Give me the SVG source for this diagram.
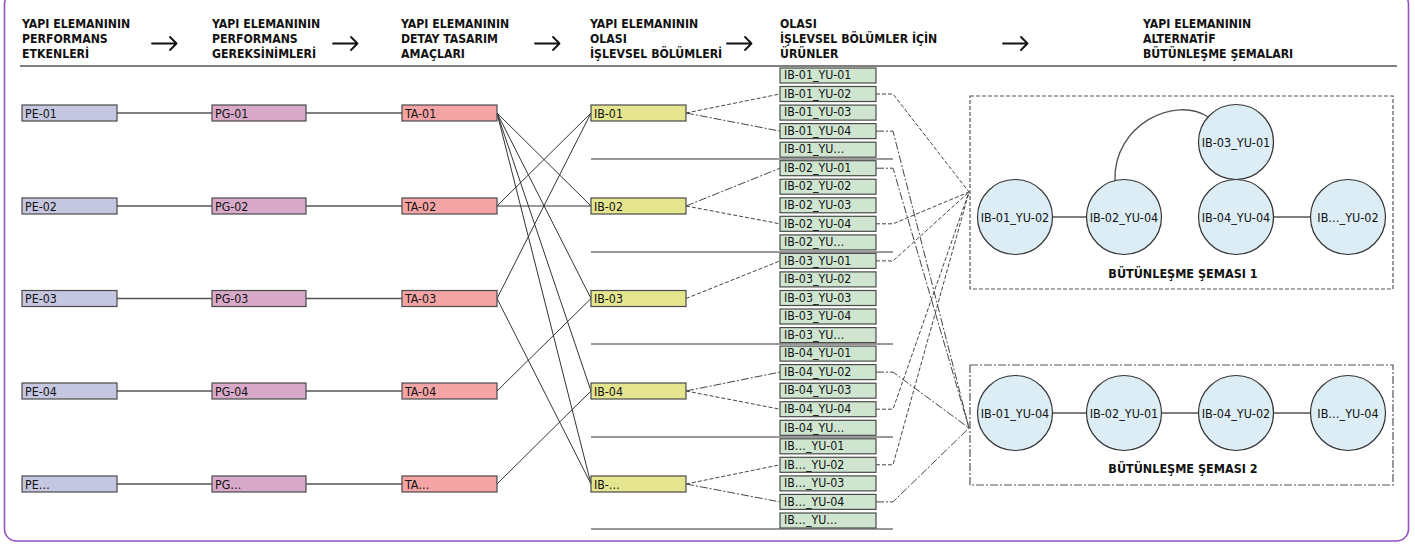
<svg xmlns="http://www.w3.org/2000/svg" width="1415" height="545" viewBox="0 0 1415 545">
<style>
text{font-family:"DejaVu Sans Condensed","Liberation Sans",Arial,sans-serif;font-stretch:condensed;fill:#111}
.h{font-size:12.2px;font-weight:bold}
.lbl{font-size:12.3px}
.cl{font-size:12.5px;text-anchor:middle}
.sl{font-size:12.5px;font-weight:bold;text-anchor:middle}
.arr{stroke:#111;stroke-width:1.8;fill:none;stroke-linecap:round;stroke-linejoin:round}
.box{stroke:#4a4a4a;stroke-width:1.2}
.pe{fill:#c5c6df}.pg{fill:#d8a9c9}.ta{fill:#f4a4a4}.ib{fill:#e5e590}.yu{fill:#cfe5cf}
.cir{fill:#dcedf5;stroke:#333;stroke-width:1.2}
.solid{stroke:#555;stroke-width:1.4;fill:none}
.thin{stroke:#333;stroke-width:1;fill:none}
.dash{stroke:#444;stroke-width:1;fill:none;stroke-dasharray:4 2}
.dd{stroke:#444;stroke-width:1;fill:none;stroke-dasharray:8 2 2 2}
.sep{stroke:#777;stroke-width:1.5}
</style>
<rect x="4.5" y="-8" width="1404" height="549" rx="12" fill="#fff" stroke="#9452c0" stroke-width="1.6"/>
<g id="headers">
<text class="h" x="22" y="28">YAPI ELEMANININ</text><text class="h" x="22" y="43">PERFORMANS</text><text class="h" x="22" y="58">ETKENLERİ</text>
<text class="h" x="212" y="28">YAPI ELEMANININ</text><text class="h" x="212" y="43">PERFORMANS</text><text class="h" x="212" y="58">GEREKSİNİMLERİ</text>
<text class="h" x="401" y="28">YAPI ELEMANININ</text><text class="h" x="401" y="43">DETAY TASARIM</text><text class="h" x="401" y="58">AMAÇLARI</text>
<text class="h" x="590" y="28">YAPI ELEMANININ</text><text class="h" x="590" y="43">OLASI</text><text class="h" x="590" y="58">İŞLEVSEL BÖLÜMLERİ</text>
<text class="h" x="780" y="28">OLASI</text><text class="h" x="780" y="43">İŞLEVSEL BÖLÜMLER İÇİN</text><text class="h" x="780" y="58">ÜRÜNLER</text>
<text class="h" x="1143" y="28">YAPI ELEMANININ</text><text class="h" x="1143" y="43">ALTERNATİF</text><text class="h" x="1143" y="58">BÜTÜNLEŞME ŞEMALARI</text>
<path class="arr" d="M152 43.5H176.5M170 37L176.5 43.5L170 50"/>
<path class="arr" d="M333 43.5H357.5M351 37L357.5 43.5L351 50"/>
<path class="arr" d="M535 43.5H559.5M553 37L559.5 43.5L553 50"/>
<path class="arr" d="M727 43.5H751.5M745 37L751.5 43.5L745 50"/>
<path class="arr" d="M1003 43.5H1027.5M1021 37L1027.5 43.5L1021 50"/>
<line x1="20" y1="66" x2="1397" y2="66" stroke="#555" stroke-width="1.5"/>
</g>
<g id="separators">
<line class="sep" x1="591" y1="159" x2="893" y2="159"/>
<line class="sep" x1="591" y1="252" x2="893" y2="252"/>
<line class="sep" x1="591" y1="344" x2="893" y2="344"/>
<line class="sep" x1="591" y1="437" x2="893" y2="437"/>
<line class="sep" x1="591" y1="529" x2="893" y2="529"/>
</g>
<g id="connectors">
<path class="solid" d="M117 113H212M306 113H402M117 206H212M306 206H402M117 298.5H212M306 298.5H402M117 391H212M306 391H402M117 484H212M306 484H402"/>
<path class="thin" d="M497 113L591 206M497 113L591 298.5M497 113L591 391M497 113L591 484M497 206L591 113M497 206L591 206M497 298.5L591 113M497 298.5L591 484M497 391L591 298.5M497 484L591 391"/>
<path class="dash" d="M686 113L780 94M686 206L780 223.8M686 298.5L780 260.9M686 391L780 409.2M686 484L780 464.8"/>
<path class="dd" d="M686 113L780 131.1M686 206L780 168.2M686 391L780 372.1M686 484L780 501.9"/>
<path class="dash" d="M876 94H893L969 192M876 223.8H893L969 192M876 260.9H893L969 192M876 409.2H893L969 192M876 464.8H893L969 192"/>
<path class="dd" d="M876 131.1H893L969 428M876 168.2H893L969 428M876 372.1H893L969 428M876 501.9H893L969 428"/>
</g>
<g id="pe01"><rect class="box pe" x="22" y="105" width="95" height="16"/><text class="lbl" x="25" y="117.5">PE-01</text></g>
<g id="pe02"><rect class="box pe" x="22" y="198" width="95" height="16"/><text class="lbl" x="25" y="210.5">PE-02</text></g>
<g id="pe03"><rect class="box pe" x="22" y="290.5" width="95" height="16"/><text class="lbl" x="25" y="303">PE-03</text></g>
<g id="pe04"><rect class="box pe" x="22" y="383" width="95" height="16"/><text class="lbl" x="25" y="395.5">PE-04</text></g>
<g id="pe05"><rect class="box pe" x="22" y="476" width="95" height="16"/><text class="lbl" x="25" y="488.5">PE…</text></g>
<g id="pg01"><rect class="box pg" x="212" y="105" width="94" height="16"/><text class="lbl" x="215" y="117.5">PG-01</text></g>
<g id="pg02"><rect class="box pg" x="212" y="198" width="94" height="16"/><text class="lbl" x="215" y="210.5">PG-02</text></g>
<g id="pg03"><rect class="box pg" x="212" y="290.5" width="94" height="16"/><text class="lbl" x="215" y="303">PG-03</text></g>
<g id="pg04"><rect class="box pg" x="212" y="383" width="94" height="16"/><text class="lbl" x="215" y="395.5">PG-04</text></g>
<g id="pg05"><rect class="box pg" x="212" y="476" width="94" height="16"/><text class="lbl" x="215" y="488.5">PG…</text></g>
<g id="ta01"><rect class="box ta" x="402" y="105" width="95" height="16"/><text class="lbl" x="405" y="117.5">TA-01</text></g>
<g id="ta02"><rect class="box ta" x="402" y="198" width="95" height="16"/><text class="lbl" x="405" y="210.5">TA-02</text></g>
<g id="ta03"><rect class="box ta" x="402" y="290.5" width="95" height="16"/><text class="lbl" x="405" y="303">TA-03</text></g>
<g id="ta04"><rect class="box ta" x="402" y="383" width="95" height="16"/><text class="lbl" x="405" y="395.5">TA-04</text></g>
<g id="ta05"><rect class="box ta" x="402" y="476" width="95" height="16"/><text class="lbl" x="405" y="488.5">TA…</text></g>
<g id="ib01"><rect class="box ib" x="591" y="105" width="95" height="16"/><text class="lbl" x="594" y="117.5">IB-01</text></g>
<g id="ib02"><rect class="box ib" x="591" y="198" width="95" height="16"/><text class="lbl" x="594" y="210.5">IB-02</text></g>
<g id="ib03"><rect class="box ib" x="591" y="290.5" width="95" height="16"/><text class="lbl" x="594" y="303">IB-03</text></g>
<g id="ib04"><rect class="box ib" x="591" y="383" width="95" height="16"/><text class="lbl" x="594" y="395.5">IB-04</text></g>
<g id="ib05"><rect class="box ib" x="591" y="476" width="95" height="16"/><text class="lbl" x="594" y="488.5">IB-…</text></g>
<g id="yu0101"><rect class="box yu" x="780" y="68" width="96" height="15"/><text class="lbl" x="784" y="79.2">IB-01_YU-01</text></g>
<g id="yu0102"><rect class="box yu" x="780" y="86.5" width="96" height="15"/><text class="lbl" x="784" y="97.7">IB-01_YU-02</text></g>
<g id="yu0103"><rect class="box yu" x="780" y="105.1" width="96" height="15"/><text class="lbl" x="784" y="116.3">IB-01_YU-03</text></g>
<g id="yu0104"><rect class="box yu" x="780" y="123.6" width="96" height="15"/><text class="lbl" x="784" y="134.8">IB-01_YU-04</text></g>
<g id="yu0105"><rect class="box yu" x="780" y="142.2" width="96" height="15"/><text class="lbl" x="784" y="153.4">IB-01_YU…</text></g>
<g id="yu0201"><rect class="box yu" x="780" y="160.7" width="96" height="15"/><text class="lbl" x="784" y="171.9">IB-02_YU-01</text></g>
<g id="yu0202"><rect class="box yu" x="780" y="179.2" width="96" height="15"/><text class="lbl" x="784" y="190.4">IB-02_YU-02</text></g>
<g id="yu0203"><rect class="box yu" x="780" y="197.8" width="96" height="15"/><text class="lbl" x="784" y="209">IB-02_YU-03</text></g>
<g id="yu0204"><rect class="box yu" x="780" y="216.3" width="96" height="15"/><text class="lbl" x="784" y="227.5">IB-02_YU-04</text></g>
<g id="yu0205"><rect class="box yu" x="780" y="234.9" width="96" height="15"/><text class="lbl" x="784" y="246.1">IB-02_YU…</text></g>
<g id="yu0301"><rect class="box yu" x="780" y="253.4" width="96" height="15"/><text class="lbl" x="784" y="264.6">IB-03_YU-01</text></g>
<g id="yu0302"><rect class="box yu" x="780" y="271.9" width="96" height="15"/><text class="lbl" x="784" y="283.1">IB-03_YU-02</text></g>
<g id="yu0303"><rect class="box yu" x="780" y="290.5" width="96" height="15"/><text class="lbl" x="784" y="301.7">IB-03_YU-03</text></g>
<g id="yu0304"><rect class="box yu" x="780" y="309" width="96" height="15"/><text class="lbl" x="784" y="320.2">IB-03_YU-04</text></g>
<g id="yu0305"><rect class="box yu" x="780" y="327.6" width="96" height="15"/><text class="lbl" x="784" y="338.8">IB-03_YU…</text></g>
<g id="yu0401"><rect class="box yu" x="780" y="346.1" width="96" height="15"/><text class="lbl" x="784" y="357.3">IB-04_YU-01</text></g>
<g id="yu0402"><rect class="box yu" x="780" y="364.6" width="96" height="15"/><text class="lbl" x="784" y="375.8">IB-04_YU-02</text></g>
<g id="yu0403"><rect class="box yu" x="780" y="383.2" width="96" height="15"/><text class="lbl" x="784" y="394.4">IB-04_YU-03</text></g>
<g id="yu0404"><rect class="box yu" x="780" y="401.7" width="96" height="15"/><text class="lbl" x="784" y="412.9">IB-04_YU-04</text></g>
<g id="yu0405"><rect class="box yu" x="780" y="420.3" width="96" height="15"/><text class="lbl" x="784" y="431.5">IB-04_YU…</text></g>
<g id="yu0501"><rect class="box yu" x="780" y="438.8" width="96" height="15"/><text class="lbl" x="784" y="450">IB…_YU-01</text></g>
<g id="yu0502"><rect class="box yu" x="780" y="457.3" width="96" height="15"/><text class="lbl" x="784" y="468.5">IB…_YU-02</text></g>
<g id="yu0503"><rect class="box yu" x="780" y="475.9" width="96" height="15"/><text class="lbl" x="784" y="487.1">IB…_YU-03</text></g>
<g id="yu0504"><rect class="box yu" x="780" y="494.4" width="96" height="15"/><text class="lbl" x="784" y="505.6">IB…_YU-04</text></g>
<g id="yu0505"><rect class="box yu" x="780" y="513" width="96" height="15"/><text class="lbl" x="784" y="524.2">IB…_YU…</text></g>
<g id="schema1">
<rect x="970" y="96" width="423" height="193" fill="none" stroke="#555" stroke-width="1.2" stroke-dasharray="4 2"/>
<path class="solid" d="M1052.5 217H1086.5M1273.5 217H1310.5" stroke="#333"/>
<path class="solid" d="M1115 180.6C1113 125 1175 95 1208 117" stroke="#222"/>
<g id="s1n1"><circle class="cir" cx="1015" cy="217" r="37.5"/><text class="cl" x="1015" y="221.5">IB-01_YU-02</text></g>
<g id="s1n2"><circle class="cir" cx="1124" cy="217" r="37.5"/><text class="cl" x="1124" y="221.5">IB-02_YU-04</text></g>
<g id="s1n3"><circle class="cir" cx="1236" cy="142" r="37.5"/><text class="cl" x="1236" y="146.5">IB-03_YU-01</text></g>
<g id="s1n4"><circle class="cir" cx="1236" cy="217" r="37.5"/><text class="cl" x="1236" y="221.5">IB-04_YU-04</text></g>
<g id="s1n5"><circle class="cir" cx="1348" cy="217" r="37.5"/><text class="cl" x="1348" y="221.5">IB…_YU-02</text></g>
<text class="sl" x="1183" y="278">BÜTÜNLEŞME ŞEMASI 1</text>
</g>
<g id="schema2">
<rect x="970" y="365" width="423" height="120" fill="none" stroke="#555" stroke-width="1.2" stroke-dasharray="8 2 2 2"/>
<path class="solid" d="M1052.5 413H1086.5M1161.5 413H1198.5M1273.5 413H1310.5" stroke="#333"/>
<g id="s2n1"><circle class="cir" cx="1015" cy="413" r="37.5"/><text class="cl" x="1015" y="417.5">IB-01_YU-04</text></g>
<g id="s2n2"><circle class="cir" cx="1124" cy="413" r="37.5"/><text class="cl" x="1124" y="417.5">IB-02_YU-01</text></g>
<g id="s2n3"><circle class="cir" cx="1236" cy="413" r="37.5"/><text class="cl" x="1236" y="417.5">IB-04_YU-02</text></g>
<g id="s2n4"><circle class="cir" cx="1348" cy="413" r="37.5"/><text class="cl" x="1348" y="417.5">IB…_YU-04</text></g>
<text class="sl" x="1183" y="473">BÜTÜNLEŞME ŞEMASI 2</text>
</g>
</svg>
